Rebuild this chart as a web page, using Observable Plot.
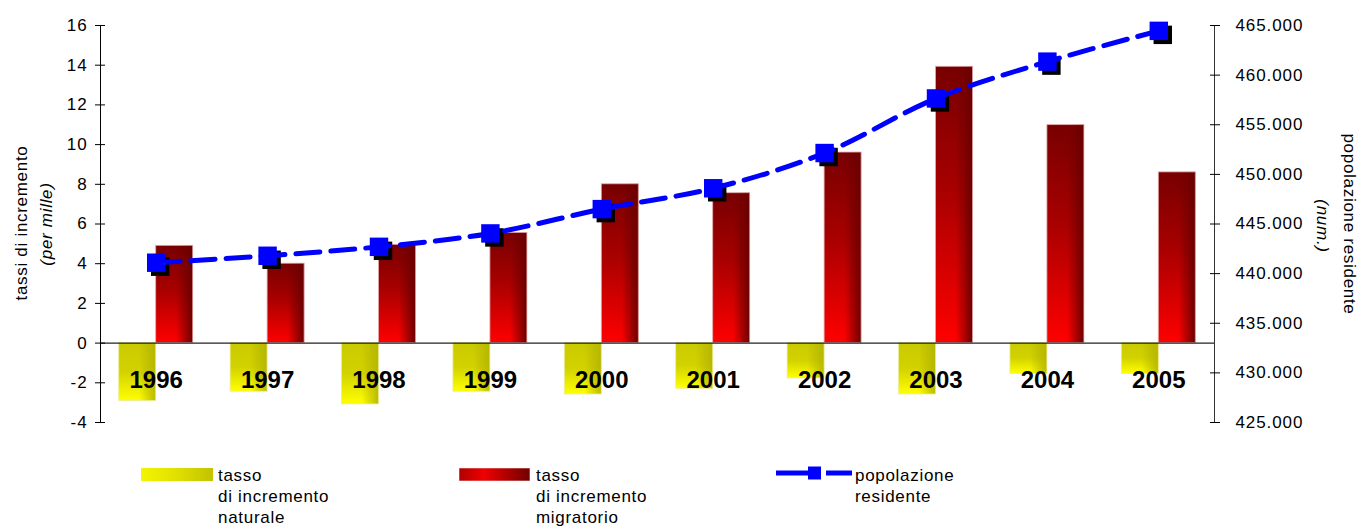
<!DOCTYPE html>
<html><head><meta charset="utf-8">
<script src="https://cdn.jsdelivr.net/npm/d3@7"></script>
<script src="https://cdn.jsdelivr.net/npm/@observablehq/plot@0.6"></script>
<style>
body{margin:0;background:#fff;font-family:Arial,"Liberation Sans",sans-serif;}
#wrap{position:relative;width:1361px;height:527px;overflow:hidden;}
#wrap > svg.plot{position:absolute;left:0;top:0;}
.leg{position:absolute;font-size:17px;line-height:21px;color:#000;white-space:nowrap;letter-spacing:0.7px;}
.sw{position:absolute;}
svg.plot g[aria-label="y-axis tick label"] text{letter-spacing:0.9px;}
</style></head><body><div id="wrap"></div>
<script>
// ---- data ----
const years = ["1996","1997","1998","1999","2000","2001","2002","2003","2004","2005"];
const naturale = [-2.92,-2.45,-3.09,-2.45,-2.59,-2.30,-1.78,-2.59,-1.55,-1.55];
const migratorio = [4.9,4.0,4.95,5.55,8.0,7.55,9.6,13.92,10.98,8.6];
const popolazione = [441100,441800,442700,444050,446500,448600,452150,457650,461360,464460];
const leftTicks = [-4,-2,0,2,4,6,8,10,12,14,16];
const rightTicks = [425000,430000,435000,440000,445000,450000,455000,460000,465000];
const leftLabel = ["tassi di incremento","(per mille)"];
const rightLabel = ["popolazione residente","(num.)"];
const legendLabels = ["tasso<br>di incremento<br>naturale","tasso<br>di incremento<br>migratorio","popolazione<br>residente"];

// map population (right axis 425.000–465.000) onto the left scale (-4–16)
const toY = p => -4 + (p - 425000) / 40000 * 20;
const fromY = v => 425000 + (v + 4) / 20 * 40000;
const itFmt = d3.formatLocale({decimal:",",thousands:".",grouping:[3],currency:["",""]}).format(",d");

const data = years.map((y,i)=>({year:y, nat:naturale[i], mig:migratorio[i], pop:popolazione[i], py:toY(popolazione[i])}));

const W = 1361, H = 450;
const font = 'Arial,"Liberation Sans",sans-serif';
const chart = Plot.plot({
  width:W, height:H, marginTop:25, marginBottom:28, marginLeft:100, marginRight:147,
  style:{fontFamily:font, fontSize:"17px", color:"#000", background:"transparent", overflow:"visible"},
  x:{type:"band", domain:years, paddingInner:0.336, paddingOuter:0.168, round:false, axis:null},
  y:{domain:[-4,16], axis:null},
  marks:[
    // natural increase (yellow), left half of band
    Plot.barY(data,{x:"year", y:"nat", fill:"url(#yelV)", insetRight:37}),
    Plot.barY(data,{x:"year", y:"nat", fill:"url(#yelH)", stroke:"#ecec9a", strokeWidth:0.8, insetRight:37}),
    // migratory increase (red), right half of band
    Plot.barY(data,{x:"year", y:"mig", fill:"url(#redV)", insetLeft:37}),
    Plot.barY(data,{x:"year", y:"mig", fill:"url(#redH)", stroke:"#e2a8a8", strokeWidth:0.8, insetLeft:37}),
    Plot.ruleY([0],{stroke:"#222", strokeWidth:1.3}),
    Plot.frame({anchor:"left", stroke:"#000"}),
    Plot.frame({anchor:"right", stroke:"#333"}),
    Plot.axisY({anchor:"left", ticks:leftTicks, tickFormat:d=>String(d), tickSize:10, dx:5, tickPadding:8, fontSize:17, label:null}),
    Plot.axisY({anchor:"right", ticks:rightTicks.map(toY), tickFormat:v=>itFmt(Math.round(fromY(v))), tickSize:10, dx:-5, tickPadding:16, fontSize:17, label:null}),
    // year labels
    Plot.text(data,{x:"year", y:()=>0, dy:37, text:"year", fontWeight:"bold", fontSize:24, fill:"#000"}),
    // population line with shadowed square markers
    Plot.dot(data,{x:"year", y:"py", symbol:"square", r:10.4, fill:"#000", dx:4, dy:4}),
    Plot.line(data,{x:"year", y:"py", stroke:"#0000ff", strokeWidth:5, strokeDasharray:"24,11", curve:"catmull-rom"}),
    Plot.dot(data,{x:"year", y:"py", symbol:"square", r:10.4, fill:"#0000ff"}),
    // axis titles
    Plot.text([leftLabel[0]],{text:d=>d, frameAnchor:"left", textAnchor:"middle", dx:-79, dy:-1, rotate:-90, fontSize:17}),
    Plot.text([leftLabel[1]],{text:d=>d, frameAnchor:"left", textAnchor:"middle", dx:-54, rotate:-90, fontSize:17, fontStyle:"italic"}),
    Plot.text([rightLabel[0]],{text:d=>d, frameAnchor:"right", textAnchor:"middle", dx:135, rotate:90, fontSize:17}),
    Plot.text([rightLabel[1]],{text:d=>d, frameAnchor:"right", textAnchor:"middle", dx:108, dy:2, rotate:90, fontSize:17, fontStyle:"italic"})
  ]
});
chart.classList.add("plot");

// slightly wider lettering for the axis titles, as in the reference
const allLabels = leftLabel.concat(rightLabel);
d3.select(chart).selectAll("text").filter(function(){ return allLabels.includes(this.textContent); }).style("letter-spacing","0.7px");

const defs = d3.select(chart).insert("defs", ":first-child");
function grad(id, x2, y2, stops){
  const g = defs.append("linearGradient").attr("id", id).attr("x1",0).attr("y1",0).attr("x2",x2).attr("y2",y2);
  stops.forEach(([o,c,op])=>g.append("stop").attr("offset",o).attr("stop-color",c).attr("stop-opacity",op==null?1:op));
}
grad("redV",0,1,[[0,"#780000"],[0.45,"#a80000"],[1,"#ff0000"]]);
grad("redH",1,0,[[0,"#700000",0],[0.55,"#700000",0],[1,"#6a0000",1]]);
grad("yelV",0,1,[[0,"#caca00"],[0.5,"#d2d200"],[1,"#ffff00"]]);
grad("yelH",1,0,[[0,"#b0b000",0],[0.55,"#b0b000",0],[1,"#b4b400",0.9]]);

const wrap = document.getElementById("wrap");
wrap.appendChild(chart);

// legend
function addHTML(html){ const d=document.createElement("div"); d.innerHTML=html; wrap.appendChild(d.firstElementChild); }
addHTML(`<svg class="sw" style="left:141px;top:468px" width="72" height="13"><defs><linearGradient id="lgY" x1="0" y1="0" x2="1" y2="0"><stop offset="0" stop-color="#f4f400"/><stop offset="0.5" stop-color="#e0e000"/><stop offset="1" stop-color="#c2c200"/></linearGradient></defs><rect width="72" height="13" fill="url(#lgY)"/></svg>`);
addHTML(`<div class="leg" style="left:218px;top:465px">${legendLabels[0]}</div>`);
addHTML(`<svg class="sw" style="left:459px;top:468px" width="71" height="13"><defs><linearGradient id="lgR" x1="0" y1="0" x2="1" y2="0"><stop offset="0" stop-color="#b00000"/><stop offset="0.35" stop-color="#f00000"/><stop offset="1" stop-color="#700000"/></linearGradient></defs><rect width="71" height="13" fill="url(#lgR)" stroke="#e2a8a8" stroke-width="0.8"/></svg>`);
addHTML(`<div class="leg" style="left:536px;top:465px">${legendLabels[1]}</div>`);
addHTML(`<svg class="sw" style="left:774px;top:464px" width="80" height="18"><line x1="2" y1="9" x2="40" y2="9" stroke="#0000ff" stroke-width="5"/><line x1="52" y1="9" x2="78" y2="9" stroke="#0000ff" stroke-width="5"/><rect x="34" y="2.5" width="13" height="13" fill="#0000ff"/></svg>`);
addHTML(`<div class="leg" style="left:855px;top:465px">${legendLabels[2]}</div>`);
</script>
</body></html>
